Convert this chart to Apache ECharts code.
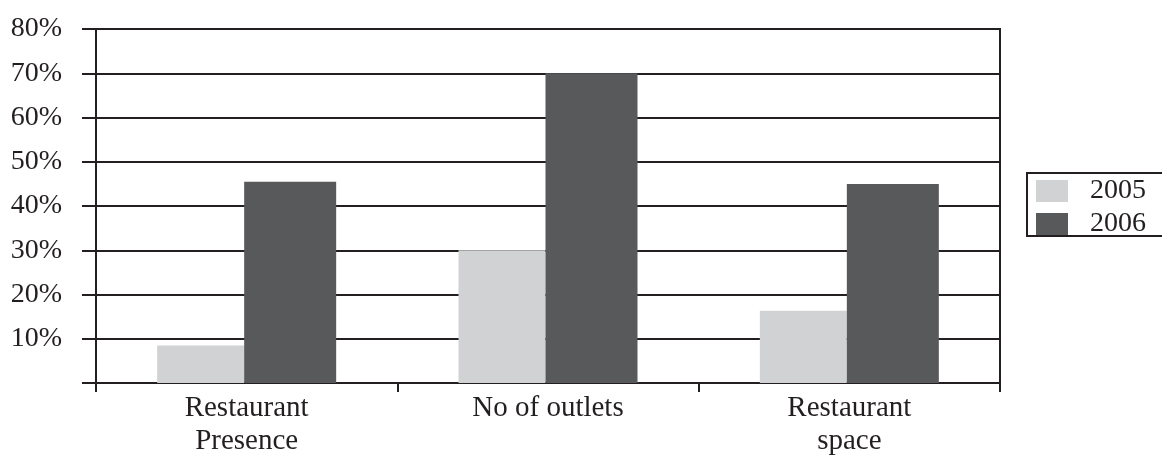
<!DOCTYPE html>
<html>
<head>
<meta charset="utf-8">
<script src="https://cdn.jsdelivr.net/npm/echarts@6/dist/echarts.min.js"></script>
<style>
  html, body { margin: 0; padding: 0; background: #ffffff; }
  #chart { width: 1162px; height: 458px; }
</style>
</head>
<body>
<div id="chart"></div>
<script>
// Share of growth by indicator, 2005 vs 2006 (percent)
const categories = ['Restaurant\nPresence', 'No of outlets', 'Restaurant\nspace'];
const years = ['2005', '2006'];
const values2005 = [8.5, 30, 16.3];
const values2006 = [45.5, 70, 45];
const yTicks = { min: 0, max: 80, interval: 10 };

const ink = '#231f20';
const serif = '"Liberation Serif", "Times New Roman", serif';

const chart = echarts.init(document.getElementById('chart'));
chart.setOption({
  animation: false,
  backgroundColor: '#ffffff',
  grid: {
    left: 96, right: 162, top: 29, bottom: 74,
    show: true, borderColor: ink, borderWidth: 2, backgroundColor: 'transparent'
  },
  // legend frame runs off the right edge of the canvas
  graphic: [{
    type: 'rect', silent: true, z: 10,
    shape: { x: 1027, y: 173, width: 200, height: 63 },
    style: { fill: 'none', stroke: ink, lineWidth: 2 }
  }],
  legend: {
    data: years,
    orient: 'vertical',
    left: 1026, top: 172,
    itemWidth: 32, itemHeight: 22, itemGap: 5,
    icon: 'rect',
    borderWidth: 0,
    padding: [5, 10, 2, 10],
    textStyle: {
      fontFamily: serif, fontSize: 28, color: ink,
      lineHeight: 27, padding: [0, 0, 0, 17]
    },
    selectedMode: false
  },
  xAxis: {
    type: 'category',
    data: categories,
    axisLine: { show: true, lineStyle: { color: ink, width: 2 } },
    axisTick: { show: true, length: 9, lineStyle: { color: ink, width: 2 } },
    axisLabel: {
      fontFamily: serif, fontSize: 29, color: ink,
      lineHeight: 33, margin: 9
    }
  },
  yAxis: {
    type: 'value',
    min: yTicks.min, max: yTicks.max, interval: yTicks.interval,
    axisLine: { show: true, lineStyle: { color: ink, width: 2 } },
    axisTick: { show: true, length: 14, lineStyle: { color: ink, width: 2 } },
    axisLabel: {
      fontFamily: serif, fontSize: 28, color: ink, margin: 34,
      formatter: v => (v === 0 ? '' : v + '%')
    },
    splitLine: { show: true, lineStyle: { color: ink, width: 2 } }
  },
  series: [
    {
      name: years[0], type: 'bar', data: values2005,
      barWidth: 87, barGap: '0%',
      itemStyle: { color: '#d1d2d4' }
    },
    {
      name: years[1], type: 'bar', data: values2006,
      barWidth: 92, barGap: '0%',
      itemStyle: { color: '#58595b' }
    }
  ]
});
</script>
</body>
</html>
